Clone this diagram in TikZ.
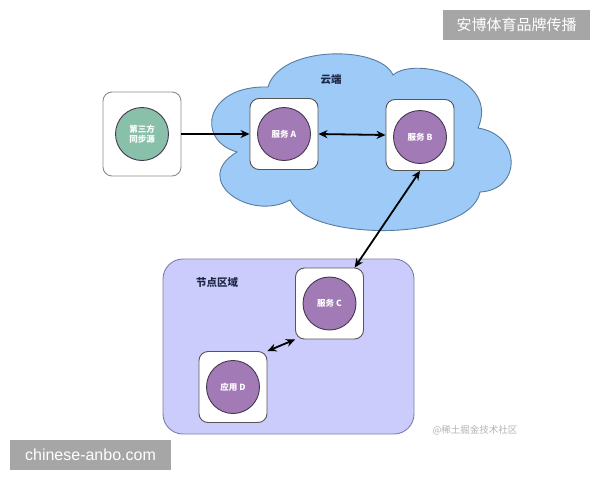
\documentclass[tikz,border=0pt]{standalone}
\usepackage{fontspec}
\setmainfont{Liberation Sans}
\newfontfamily\cjk{Noto Sans CJK SC}
\usetikzlibrary{arrows.meta}
\definecolor{cloudfill}{RGB}{157,202,246}
\definecolor{cloudline}{RGB}{88,124,160}
\definecolor{zonefill}{RGB}{204,204,252}
\definecolor{zoneline}{RGB}{120,126,170}
\definecolor{svcfill}{RGB}{161,122,182}
\definecolor{svcline}{RGB}{70,55,80}
\definecolor{srcfill}{RGB}{136,192,170}
\definecolor{boxline}{RGB}{85,85,85}
\definecolor{markgray}{RGB}{166,166,166}
\definecolor{labelblue}{RGB}{30,40,70}
\tikzset{
  holder/.style={draw=boxline, line width=0.9pt, fill=white, rounded corners=9pt, minimum width=68pt, minimum height=71pt, inner sep=0pt},
  svc/.style={circle, draw=svcline, line width=0.9pt, fill=svcfill, minimum size=53pt, inner sep=0pt, text=white, font=\cjk\bfseries\fontsize{8.5}{10}\selectfont, align=center},
  src/.style={svc, fill=srcfill},
  conn/.style={line width=1.8pt, -{Stealth[length=9pt,width=8pt]}},
  biconn/.style={line width=1.8pt, {Stealth[length=9pt,width=8pt]}-{Stealth[length=9pt,width=8pt]}},
  area/.style={font=\cjk\bfseries\fontsize{10.5}{12}\selectfont, text=labelblue},
  stamp/.style={fill=markgray, text=white, inner sep=0pt, minimum height=30pt}
}
\begin{document}
\begin{tikzpicture}[x=1pt,y=-1pt]
\useasboundingbox (0,0) rectangle (600,480);
% cloud
\path[draw=cloudline, line width=0.9pt, fill=cloudfill]
  (268,87) .. controls (280,45) and (380,45) .. (393,75)
  .. controls (415,56) and (500,78) .. (478,128)
  .. controls (522,135) and (522,190) .. (480,192)
  .. controls (470,242) and (310,242) .. (290,200)
  .. controls (250,222) and (190,180) .. (237,152)
  .. controls (195,140) and (205,85) .. (268,87) -- cycle;
\node[area] (cloudlbl) at (331,80) {云端};
% zone
\node[draw=zoneline, line width=0.9pt, fill=zonefill, rounded corners=20pt, minimum width=251pt, minimum height=175pt, inner sep=0pt] (zone) at (288.5,346.5) {};
\node[area] (zonelbl) at (217,282) {节点区域};
% boxes
\node[holder, draw=black!45, minimum width=78pt, minimum height=84pt] (srcbox) at (142,134) {};
\node[src] (src) at (142,134) {第三方\\同步源};
\node[holder] (boxA) at (284,134) {};
\node[svc] (svcA) at (284,134) {服务 A};
\node[holder] (boxB) at (420,135) {};
\node[svc] (svcB) at (420,137) {服务 B};
\node[holder] (boxC) at (329.5,303.5) {};
\node[svc] (svcC) at (329.5,303.5) {服务 C};
\node[holder] (boxD) at (233,387) {};
\node[svc] (appD) at (233,387) {应用 D};
% connectors
\draw[conn] (srcbox.east) -- (boxA.west);
\draw[biconn] (boxA.east) -- (boxB.west);
\draw[biconn] (boxB.south) -- (boxC.55);
\draw[biconn] (boxD.north east) -- (boxC.south west);
% watermarks
\node[font=\cjk\fontsize{9.5}{11}\selectfont, text=black!30] (wm) at (475,430) {@稀土掘金技术社区};
\node[stamp, minimum width=147pt, font=\cjk\fontsize{15}{18}\selectfont] (brand) at (516.5,25) {安博体育品牌传播};
\node[stamp, minimum width=161pt, font=\fontsize{16}{19}\selectfont] (site) at (90.5,455) {chinese-anbo.com};
\end{tikzpicture}
\end{document}
